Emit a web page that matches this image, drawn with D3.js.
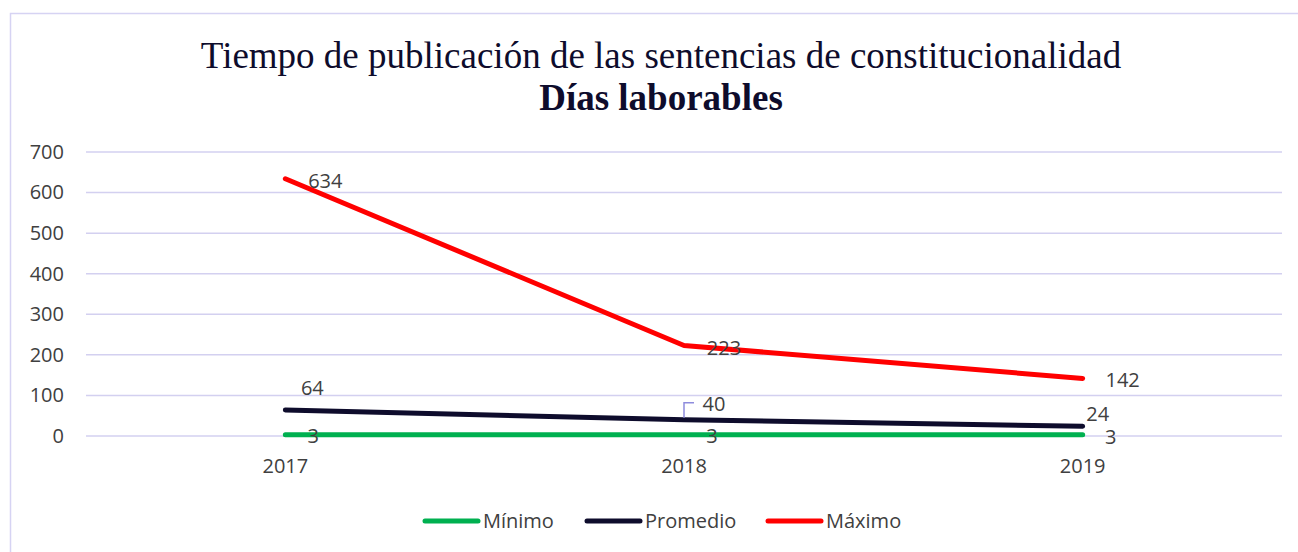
<!DOCTYPE html>
<html><head><meta charset="utf-8">
<script src="https://cdn.jsdelivr.net/npm/d3@7"></script>
<style>body{margin:0;background:#fff}svg{display:block}</style>
</head><body>
<svg id="c" width="1298" height="552"></svg>
<script>
const categories = ["2017", "2018", "2019"];
const minimo = [3, 3, 3];
const promedio = [64, 40, 24];
const maximo = [634, 223, 142];
const yTicks = [0, 100, 200, 300, 400, 500, 600, 700];
const seriesNames = ["Mínimo", "Promedio", "Máximo"];
const seriesColors = ["#00B050", "#0E0C2C", "#FF0000"];
const titleLine1 = "Tiempo de publicación de las sentencias de constitucionalidad";
const titleLine2 = "Días laborables";

const svg = d3.select("#c");
const series = [minimo, promedio, maximo];

svg.append("rect").attr("x", 10.5).attr("y", 13.5).attr("width", 1303).attr("height", 560)
  .attr("fill", "#fff").attr("stroke", "#D6D3F3").attr("stroke-width", 1.5);

svg.append("text").attr("x", 661).attr("y", 68).attr("text-anchor", "middle")
  .attr("font-family", "Liberation Serif, Times New Roman, serif").attr("font-size", 37)
  .attr("fill", "#0E0C2C").text(titleLine1);
svg.append("text").attr("x", 661).attr("y", 110).attr("text-anchor", "middle")
  .attr("font-family", "Liberation Serif, Times New Roman, serif").attr("font-size", 37).attr("font-weight", "bold")
  .attr("fill", "#0E0C2C").text(titleLine2);

const x = d3.scaleBand().domain(categories).range([86, 1282]);
const y = d3.scaleLinear().domain([0, 700]).range([436, 152]);
const cx = c => x(c) + x.bandwidth() / 2;
const font = "Open Sans, sans-serif";
const fs = 20;

const grid = svg.append("g");
grid.selectAll("line").data(yTicks).join("line")
  .attr("x1", 86).attr("x2", 1282).attr("y1", d => y(d)).attr("y2", d => y(d))
  .attr("stroke", "#D3D0F0").attr("stroke-width", 1.5);

const yAxis = svg.append("g").attr("transform", "translate(70,0)")
  .call(d3.axisLeft(y).tickValues(yTicks).tickSize(0).tickPadding(6));
yAxis.select(".domain").remove();
yAxis.selectAll("text").attr("font-family", font).attr("font-size", fs).attr("fill", "#404040");

const xAxis = svg.append("g").attr("transform", "translate(0,459)")
  .call(d3.axisBottom(x).tickSize(0).tickPadding(0));
xAxis.select(".domain").remove();
xAxis.selectAll("text").attr("font-family", font).attr("font-size", fs).attr("fill", "#404040").attr("dy", "0.71em");

const line = d3.line().x((d, i) => cx(categories[i])).y(d => y(d));
svg.append("g").selectAll("path").data([maximo, promedio, minimo]).join("path")
  .attr("d", d => line(d)).attr("fill", "none")
  .attr("stroke", (d) => seriesColors[series.indexOf(d)])
  .attr("stroke-width", 5).attr("stroke-linecap", "round").attr("stroke-linejoin", "round");

// leader line for the 2018 average label
svg.append("path")
  .attr("d", `M${cx("2018")},${y(promedio[1]) - 2}V${y(promedio[1]) - 17}h10`)
  .attr("fill", "none").attr("stroke", "#8E8CDD").attr("stroke-width", 1.5);

// data labels: offsets (dx, dy) relative to point, per series then per category
const labelOffsets = [
  [[28, 1], [28, 1], [28, 2]],
  [[27, -22], [30, -16], [15, -12]],
  [[40, 2], [40, 2], [40, 2]]
];
const lbl = svg.append("g").attr("font-family", font).attr("font-size", fs).attr("fill", "#404040");
series.forEach((s, si) => {
  s.forEach((v, i) => {
    lbl.append("text").attr("x", cx(categories[i]) + labelOffsets[si][i][0])
      .attr("y", y(v) + labelOffsets[si][i][1]).attr("text-anchor", "middle")
      .attr("dy", "0.35em").text(v);
  });
});

// legend
const legendX = [423, 585, 766];
const lg = svg.append("g");
seriesNames.forEach((n, i) => {
  lg.append("line").attr("x1", legendX[i] + 2).attr("x2", legendX[i] + 55).attr("y1", 521).attr("y2", 521)
    .attr("stroke", seriesColors[i]).attr("stroke-width", 5).attr("stroke-linecap", "round");
  lg.append("text").attr("x", legendX[i] + 60).attr("y", 521).attr("dy", "0.35em")
    .attr("font-family", font).attr("font-size", fs).attr("fill", "#404040").text(n);
});
</script>
</body></html>
